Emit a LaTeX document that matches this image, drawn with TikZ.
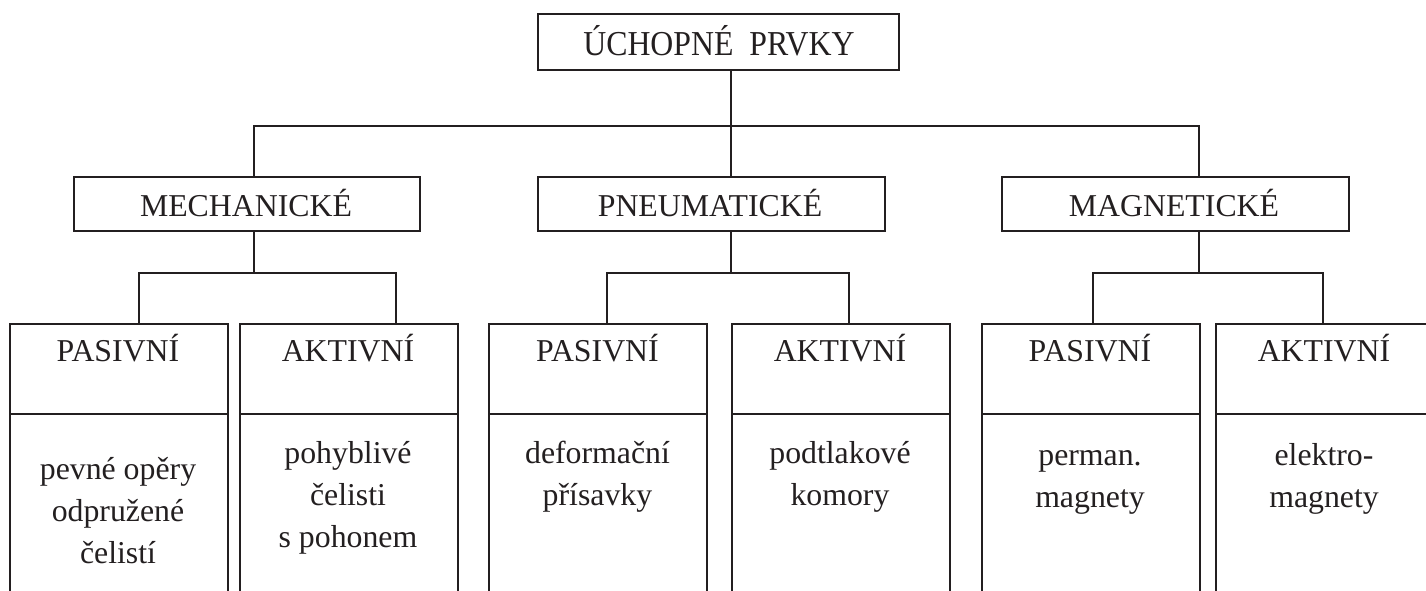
\documentclass[tikz,border=0pt]{standalone}
\usepackage{fontspec}
\setmainfont{Liberation Serif}
\usepackage{graphicx}
\definecolor{ink}{RGB}{35,31,32}
\begin{document}
\begin{tikzpicture}[x=0.5pt,y=-0.5pt,
  box/.style={draw=ink, line width=0.9pt, inner sep=0pt, anchor=north west, rectangle},
  hdr/.style={box, minimum width=109pt, minimum height=45pt},
  cell/.style={box, minimum width=109pt, minimum height=95pt},
  lbl/.style={text=ink, font=\fontsize{15.9}{21}\selectfont, anchor=base, inner sep=0pt, align=center},
  wire/.style={draw=ink, line width=0.9pt},
]
\useasboundingbox (0,0) rectangle (1426,590);
\clip (0,0) rectangle (1426,590);

% boxes
\node[box, minimum width=180.5pt, minimum height=28pt] (top) at (537,13) {};
\node[box, minimum width=173pt, minimum height=27pt] (mech) at (73,176) {};
\node[box, minimum width=173.5pt, minimum height=27pt] (pneu) at (537,176) {};
\node[box, minimum width=173.5pt, minimum height=27pt] (mag) at (1001,176) {};

\node[hdr] (mp) at (9,323) {};
\node[hdr] (ma) at (239,323) {};
\node[hdr] (pp) at (488,323) {};
\node[hdr] (pa) at (731,323) {};
\node[hdr] (gp) at (981,323) {};
\node[hdr] (ga) at (1215,323) {};

\node[cell] (mpc) at (9,413) {};
\node[cell] (mac) at (239,413) {};
\node[cell] (ppc) at (488,413) {};
\node[cell] (pac) at (731,413) {};
\node[cell] (gpc) at (981,413) {};
\node[cell] (gac) at (1215,413) {};

% helper coordinates for connector routing
\coordinate (b1) at (254,0);
\coordinate (b2) at (731,0);
\coordinate (b3) at (1199,0);
\coordinate (bus) at (0,125.7);
\coordinate (sub) at (0,273.3);
\coordinate (c1) at (139,0);
\coordinate (c2) at (396,0);
\coordinate (c3) at (607,0);
\coordinate (c4) at (849,0);
\coordinate (c5) at (1093,0);
\coordinate (c6) at (1323,0);

% connectors
\draw[wire] (top.south -| b2) -- (pneu.north -| b2);
\draw[wire] (mech.north -| b1) -- (b1 |- bus) -- (b3 |- bus) -- (mag.north -| b3);

\draw[wire] (mech.south -| b1) -- (b1 |- sub);
\draw[wire] (mp.north -| c1) -- (c1 |- sub) -- (c2 |- sub) -- (ma.north -| c2);
\draw[wire] (pneu.south -| b2) -- (b2 |- sub);
\draw[wire] (pp.north -| c3) -- (c3 |- sub) -- (c4 |- sub) -- (pa.north -| c4);
\draw[wire] (mag.south -| b3) -- (b3 |- sub);
\draw[wire] (gp.north -| c5) -- (c5 |- sub) -- (c6 |- sub) -- (ga.north -| c6);

% labels (anchor=base is the baseline of the last line)
\node[lbl] (ttop) at (719,55) {\scalebox{1}[1.1]{ÚCHOPNÉ\ \ PRVKY}};
\node[lbl] (tmech) at (246,216.7) {MECHANICKÉ};
\node[lbl] (tpneu) at (710,216.7) {PNEUMATICKÉ};
\node[lbl] (tmag) at (1174,216.7) {MAGNETICKÉ};

\node[lbl] (tmp) at (118,361.7) {PASIVNÍ};
\node[lbl] (tma) at (348,361.7) {AKTIVNÍ};
\node[lbl] (tpp) at (597.5,361.7) {PASIVNÍ};
\node[lbl] (tpa) at (840,361.7) {AKTIVNÍ};
\node[lbl] (tgp) at (1090,361.7) {PASIVNÍ};
\node[lbl] (tga) at (1324,361.7) {AKTIVNÍ};

\node[lbl] (dmp) at (118,563) {pevné opěry\\odpružené\\čelistí};
\node[lbl] (dma) at (348,547) {pohyblivé\\čelisti\\s pohonem};
\node[lbl] (dpp) at (597.5,505) {deformační\\přísavky};
\node[lbl] (dpa) at (840,505) {podtlakové\\komory};
\node[lbl] (dgp) at (1090,507) {perman.\\magnety};
\node[lbl] (dga) at (1324,507) {elektro-\\magnety};
\end{tikzpicture}
\end{document}
